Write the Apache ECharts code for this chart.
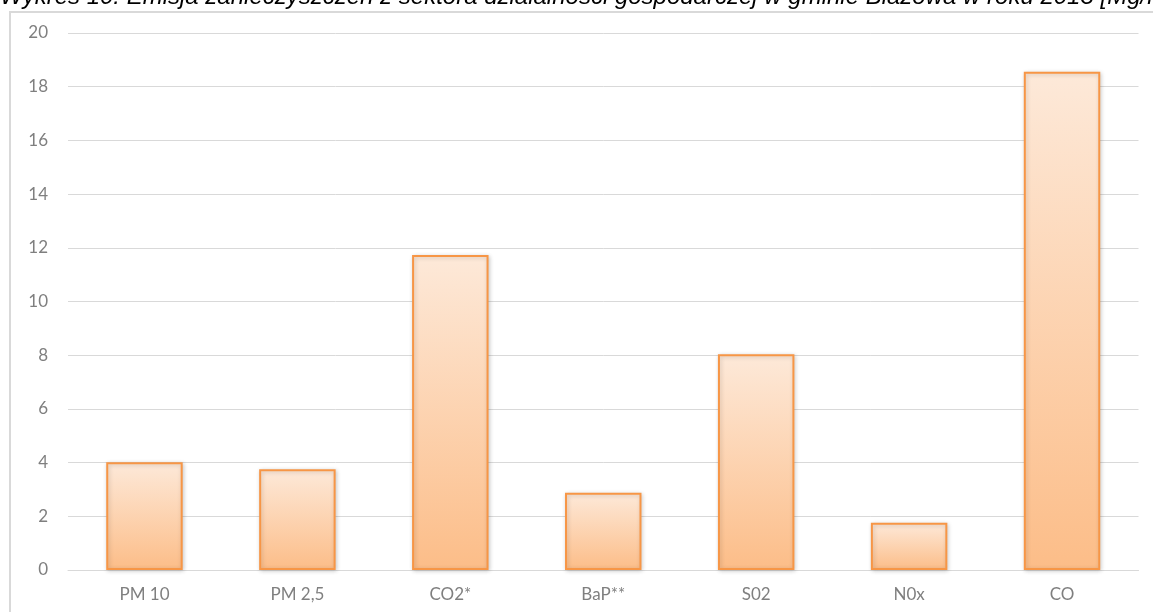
<!DOCTYPE html>
<html>
<head>
<meta charset="utf-8">
<script src="https://cdn.jsdelivr.net/npm/echarts@6/dist/echarts.min.js"></script>
<style>
  html, body { margin: 0; padding: 0; background: #ffffff; }
  #chart { width: 1153px; height: 612px; }
</style>
</head>
<body>
<div id="chart"></div>
<script>
// Emission of pollutants from business activity, Błażowa commune, 2013 [Mg/rok]
const categories = ['PM 10', 'PM 2,5', 'CO2*', 'BaP**', 'S02', 'N0x', 'CO'];
const emissions = [4.01, 3.75, 11.73, 2.88, 8.04, 1.76, 18.56];
const yTicks = { min: 0, max: 20, interval: 2 };
const titleText = 'Wykres 10. Emisja zanieczyszczeń z sektora działalności gospodarczej w gminie Błażowa w roku 2013 [Mg/rok]';

const chart = echarts.init(document.getElementById('chart'), null, { renderer: 'canvas' });

const gridLineStyle = { color: '#d9d9d9', width: 1 };
const labelFont = { color: '#7f7f7f', fontSize: 17, fontFamily: 'Lato, "Open Sans", sans-serif' };

chart.setOption({
  animation: false,
  backgroundColor: '#ffffff',
  graphic: [
    {
      // chart frame
      type: 'rect',
      shape: { x: 10, y: 12, width: 1200, height: 700 },
      style: { fill: 'none', stroke: '#d9d9d9', lineWidth: 2 },
      silent: true,
      z: -1
    },
    {
      // caption above the frame
      type: 'text',
      x: 0,
      y: -14.5,
      style: {
        text: titleText,
        fill: '#000000',
        font: 'italic 24px "Liberation Sans", Arial, sans-serif',
        verticalAlign: 'top'
      },
      z: 10
    }
  ],
  grid: { left: 68, right: 14.5, top: 33, bottom: 42 },
  xAxis: {
    type: 'category',
    data: categories,
    axisLine: { show: true, lineStyle: gridLineStyle },
    axisTick: { show: false },
    axisLabel: Object.assign({ margin: 16 }, labelFont)
  },
  yAxis: {
    type: 'value',
    min: yTicks.min,
    max: yTicks.max,
    interval: yTicks.interval,
    axisLine: { show: false },
    axisTick: { show: false },
    axisLabel: Object.assign({ margin: 20 }, labelFont),
    splitLine: { show: true, lineStyle: gridLineStyle }
  },
  series: [
    {
      type: 'bar',
      data: emissions,
      barCategoryGap: '50%',
      itemStyle: {
        color: new echarts.graphic.LinearGradient(0, 0, 0, 1, [
          { offset: 0, color: '#fde9d9' },
          { offset: 1, color: '#fcbd88' }
        ]),
        borderColor: '#f79646',
        borderWidth: 2,
        shadowColor: 'rgba(0,0,0,0.18)',
        shadowBlur: 4,
        shadowOffsetX: 1,
        shadowOffsetY: 1
      }
    }
  ]
});
</script>
</body>
</html>
